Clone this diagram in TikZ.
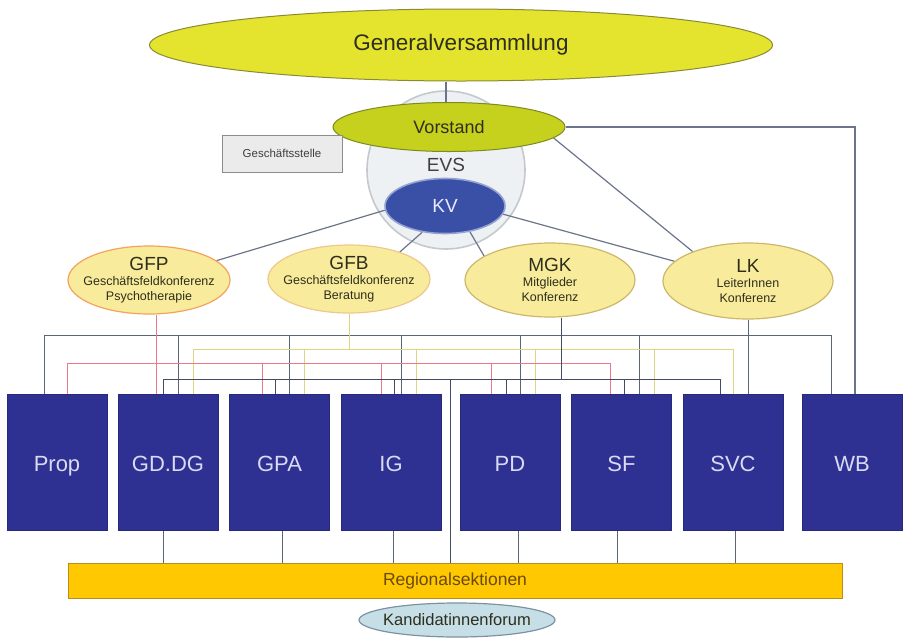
\documentclass[tikz,border=0pt]{standalone}
\usepackage{fontspec}
\setmainfont{Liberation Sans}
\usetikzlibrary{shapes.geometric,backgrounds}
\pgfdeclarelayer{back0}
\pgfsetlayers{back0,background,main}
\definecolor{gvY}{HTML}{E4E42E}
\definecolor{gvB}{HTML}{8A8A34}
\definecolor{vsY}{HTML}{C6D11E}
\definecolor{vsB}{HTML}{7C8A22}
\definecolor{evsF}{HTML}{EEF1F3}
\definecolor{evsB}{HTML}{C3C9CE}
\definecolor{kvF}{HTML}{3A4FA6}
\definecolor{kvB}{HTML}{93A2D2}
\definecolor{confY}{HTML}{F8EC9C}
\definecolor{confB}{HTML}{CDB76A}
\definecolor{gfpB}{HTML}{F2A35E}
\definecolor{gfbB}{HTML}{EDC88A}
\definecolor{unitF}{HTML}{2E3192}
\definecolor{unitT}{HTML}{DADAF4}
\definecolor{regF}{HTML}{FFC800}
\definecolor{regB}{HTML}{B48E22}
\definecolor{regT}{HTML}{6A4A08}
\definecolor{kfF}{HTML}{C6DFE7}
\definecolor{kfB}{HTML}{7C92A2}
\definecolor{gsF}{HTML}{EBEBEB}
\definecolor{gsB}{HTML}{8C8C8C}
\definecolor{txtD}{HTML}{2E2E1C}
\definecolor{lnG}{HTML}{6C7489}
\definecolor{busT}{HTML}{5B6578}
\definecolor{busY}{HTML}{DCD67E}
\definecolor{busR}{HTML}{EE7888}
\definecolor{busK}{HTML}{444C64}
\tikzset{
  ell/.style={ellipse, inner sep=0pt, line width=1pt},
  conf/.style={ell, fill=confY, draw=confB, line width=1.2pt},
  unitbox/.style={rectangle, fill=unitF, draw=unitF!85!black, line width=0.6pt,
    minimum width=100pt, minimum height=136pt, inner sep=0pt, text=unitT,
    text height=20pt, text depth=2pt,
    font=\fontsize{22}{24}\selectfont},
  conn/.style={draw=lnG, line width=1.2pt},
  topbus/.style={draw=busT, line width=0.9pt},
  ybus/.style={draw=busY, line width=0.9pt},
  rbus/.style={draw=busR, line width=0.8pt},
  kbus/.style={draw=busK, line width=1pt},
  conflabel/.style={align=center, text=txtD, font=\fontsize{12.5}{15}\selectfont},
}
\newcommand{\confttl}[1]{{\fontsize{19}{21}\selectfont #1}}
\begin{document}
\begin{tikzpicture}[x=1pt,y=-1pt]
\useasboundingbox (0,0) rectangle (903,638);

% EVS circle (lowest layer)
\begin{pgfonlayer}{back0}
\node[circle, fill=evsF, draw=evsB, line width=1.6pt, minimum size=158pt, inner sep=0pt] (evs) at (446,170) {};
\end{pgfonlayer}

% main nodes
\node[ell, fill=gvY, draw=gvB, minimum width=623pt, minimum height=72pt,
      font=\fontsize{22.5}{24}\selectfont, text=txtD] (gv) at (461,45) {Generalversammlung};
\node[ell, fill=vsY, draw=vsB, minimum width=232pt, minimum height=49pt,
      font=\fontsize{18}{20}\selectfont, text=txtD] (vorstand) at (449,127) {Vorstand};
\node[font=\fontsize{19}{20}\selectfont, text=black!75] (evst) at (446,165) {EVS};
\node[ell, fill=kvF, draw=kvB, line width=1.6pt, minimum width=120pt, minimum height=55pt,
      font=\fontsize{19}{20}\selectfont, text=white!92!blue] (kv) at (445,206) {KV};
\node[rectangle, fill=gsF, draw=gsB, line width=1pt, minimum width=120pt, minimum height=37pt,
      inner sep=0pt, font=\fontsize{11.5}{13}\selectfont, text=black!75] (gs) at (282,153.5) {Geschäftsstelle};

\node[conf, draw=gfpB, minimum width=162pt, minimum height=68pt,
  label={[conflabel]center:{\confttl{GFP}\\Geschäftsfeldkonferenz\\Psychotherapie}}] (gfp) at (149,280) {};
\node[conf, draw=gfbB, minimum width=162pt, minimum height=68pt,
  label={[conflabel]center:{\confttl{GFB}\\Geschäftsfeldkonferenz\\Beratung}}] (gfb) at (349,279) {};
\node[conf, minimum width=170pt, minimum height=74pt,
  label={[conflabel]center:{\confttl{MGK}\\Mitglieder\\Konferenz}}] (mgk) at (550,280) {};
\node[conf, minimum width=170pt, minimum height=76pt,
  label={[conflabel]center:{\confttl{LK}\\LeiterInnen\\Konferenz}}] (lk) at (748,281) {};

\node[unitbox] (prop) at (57,462) {Prop};
\node[unitbox] (gd)   at (168,462) {GD.DG};
\node[unitbox] (gpa)  at (279.5,462) {GPA};
\node[unitbox] (ig)   at (391,462) {IG};
\node[unitbox] (pd)   at (510,462) {PD};
\node[unitbox] (sf)   at (621.5,462) {SF};
\node[unitbox] (svc)  at (733,462) {SVC};
\node[unitbox] (wb)   at (852,462) {WB};

\node[rectangle, fill=regF, draw=regB, line width=1pt, minimum width=774pt, minimum height=35pt,
      inner sep=0pt, font=\fontsize{17.5}{19}\selectfont, text=regT] (reg) at (455,580.5) {Regionalsektionen};
\node[ell, fill=kfF, draw=kfB, line width=1.2pt, minimum width=196pt, minimum height=34pt,
      label={[text=txtD, font=\fontsize{16.5}{18}\selectfont]center:Kandidatinnenforum}] (kf) at (457,620) {};

% connectors
\begin{pgfonlayer}{background}
\draw[conn] ([xshift=-3]vorstand.north) -- ([xshift=-3]vorstand.north |- gv.south);
\draw[conn] (kv.184) -- (gfp.16);
\draw[conn] (kv.229) -- (gfb.28);
\draw[conn] (kv.314) -- (mgk.160);
\draw[conn] (kv.352) -- (lk.165);
\draw[conn] (vorstand.-6) -- (lk.152);
\draw[conn] (vorstand.east) -| ([xshift=3]wb.north);

% top bus (LK)
\coordinate (tbL) at (44,335);
\coordinate (tbR) at (831,335);
\draw[topbus] (tbL) -- (tbR);
\foreach \n/\s in {prop/-13, gd/10, gpa/9.5, ig/10, pd/10, sf/17.5, wb/-21}
  \draw[topbus] ([xshift=\s]\n.north) -- ([xshift=\s]\n.north |- tbL);
\draw[topbus] (lk.south) -- (lk.south |- svc.north);

% yellow bus (GFB)
\coordinate (ybL) at (193,349);
\coordinate (ybR) at (733,349);
\draw[ybus] (ybL) -- (ybR);
\foreach \n/\s in {gd/25, gpa/24.5, ig/25, pd/25, sf/32.5, svc/0}
  \draw[ybus] ([xshift=\s]\n.north) -- ([xshift=\s]\n.north |- ybL);
\draw[ybus] (gfb.south) -- (gfb.south |- ybL);

% red bus (GFP)
\coordinate (rbL) at (67,363);
\coordinate (rbR) at (610,363);
\draw[rbus] (rbL) -- (rbR);
\foreach \n/\s in {prop/10, gpa/-17.5, ig/-10, pd/-19, sf/-11.5}
  \draw[rbus] ([xshift=\s]\n.north) -- ([xshift=\s]\n.north |- rbL);
\draw[rbus] ([xshift=-12]gd.north) -- ([xshift=-12]gd.north |- gfp.south);

% dark bus (MGK)
\coordinate (kbL) at (163,379);
\coordinate (kbR) at (720,379);
\draw[kbus] (kbL) -- (kbR);
\foreach \n/\s in {gd/-5, gpa/-4.5, ig/3, pd/-4, sf/2.5, svc/-13}
  \draw[kbus] ([xshift=\s]\n.north) -- ([xshift=\s]\n.north |- kbL);
\draw[kbus] ([xshift=11]mgk.south) -- ([xshift=11]mgk.south |- kbL);
\draw[kbus] ([xshift=-5]reg.north) -- ([xshift=-5]reg.north |- kbL);

% units to Regionalsektionen
\foreach \n/\s in {gd/-5, gpa/2.5, ig/2, pd/8, sf/-4.5, svc/2}
  \draw[kbus, draw=busT] ([xshift=\s]\n.south) -- ([xshift=\s]\n.south |- reg.north);
\end{pgfonlayer}
\end{tikzpicture}
\end{document}
